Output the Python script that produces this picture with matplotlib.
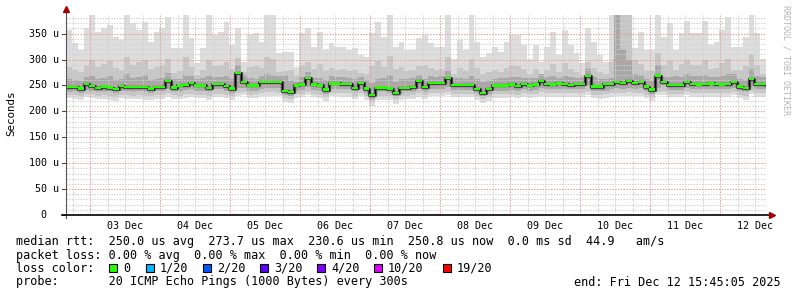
import numpy as np
import matplotlib
matplotlib.use('Agg')
import matplotlib.pyplot as plt
import matplotlib.dates as mdates
from matplotlib import transforms
from matplotlib.patches import Rectangle
from matplotlib.ticker import MultipleLocator, FuncFormatter, NullFormatter

plt.rcParams['font.family'] = ['DejaVu Sans Mono']

# ---------------- data (microseconds, 2-hour steps over 10 days) ----------------
end_time = np.datetime64('2025-12-12T15:45:05')
span_hours = 240
step_hours = 2

median = [247, 247, 244, 253, 249, 245, 248, 246, 243, 249,
          247, 247, 247, 247, 244, 247, 247, 259, 246, 250,
          251, 255, 250, 250, 245, 253, 253, 249, 244, 274,
          257, 250, 250, 257, 257, 257, 257, 240, 238, 250,
          252, 264, 252, 250, 242, 254, 254, 253, 253, 245,
          255, 244, 231, 246, 246, 244, 236, 245, 245, 247,
          258, 247, 255, 255, 255, 264, 251, 251, 251, 251,
          243, 236, 243, 250, 250, 250, 252, 249, 253, 250,
          252, 259, 253, 252, 254, 253, 251, 253, 253, 268,
          248, 248, 253, 253, 257, 255, 259, 255, 257, 248,
          242, 269, 257, 251, 251, 251, 257, 253, 252, 253,
          254, 253, 252, 253, 257, 248, 245, 262, 253, 253, 251]

smoke_max = [357, 331, 318, 361, 386, 353, 361, 367, 344, 338,
             386, 370, 357, 373, 334, 353, 361, 382, 322, 322,
             386, 341, 293, 322, 386, 347, 353, 373, 328, 361,
             296, 347, 351, 334, 386, 386, 312, 315, 315, 286,
             351, 361, 324, 353, 318, 331, 324, 324, 318, 322,
             309, 305, 351, 373, 344, 386, 324, 334, 318, 318,
             341, 347, 331, 324, 324, 386, 302, 338, 318, 386,
             334, 305, 312, 324, 315, 334, 347, 347, 328, 302,
             328, 296, 324, 353, 309, 357, 328, 312, 293, 361,
             334, 309, 296, 386, 386, 386, 386, 322, 353, 318,
             318, 386, 344, 370, 318, 351, 375, 351, 351, 375,
             328, 334, 357, 382, 324, 324, 344, 386, 351, 302, 302]

smoke_upper2 = [285, 280, 276, 290, 300, 286, 292, 298, 284, 280,
                305, 290, 296, 300, 282, 286, 290, 302, 274, 278,
                304, 286, 270, 280, 300, 288, 290, 296, 282, 303,
                276, 286, 288, 284, 305, 302, 276, 278, 280, 268,
                290, 296, 282, 292, 278, 284, 280, 282, 278, 280,
                274, 272, 288, 298, 286, 306, 282, 286, 278, 280,
                288, 290, 284, 280, 282, 304, 272, 284, 278, 302,
                284, 272, 276, 280, 276, 284, 290, 288, 282, 272,
                282, 270, 280, 292, 276, 294, 282, 276, 270, 296,
                284, 276, 272, 296, 386, 386, 386, 300, 292, 278,
                278, 312, 290, 298, 280, 292, 300, 290, 290, 300,
                282, 284, 294, 302, 280, 280, 288, 310, 290, 272, 272]

smoke_upper3 = [262, 260, 258, 266, 268, 262, 265, 268, 260, 262,
                272, 264, 266, 270, 260, 262, 264, 275, 262, 262,
                270, 268, 262, 264, 268, 266, 266, 268, 262, 290,
                270, 264, 262, 268, 272, 270, 268, 270, 258, 256,
                266, 276, 264, 264, 260, 268, 266, 266, 264, 262,
                266, 260, 254, 262, 264, 270, 256, 262, 262, 264,
                270, 262, 268, 266, 268, 278, 264, 264, 262, 268,
                262, 256, 258, 262, 264, 264, 266, 266, 264, 264,
                264, 272, 266, 268, 264, 268, 266, 264, 264, 282,
                266, 262, 262, 264, 386, 320, 300, 272, 270, 262,
                258, 290, 266, 266, 268, 266, 272, 268, 268, 270,
                266, 266, 268, 272, 272, 262, 260, 282, 268, 266, 264]

smoke_lower3 = [238, 238, 236, 242, 240, 237, 238, 237, 235, 240,
                239, 238, 239, 238, 236, 239, 239, 244, 238, 238,
                241, 243, 240, 240, 237, 243, 243, 240, 236, 246,
                246, 240, 240, 244, 245, 245, 245, 232, 230, 240,
                242, 248, 242, 240, 234, 244, 244, 243, 243, 237,
                244, 236, 224, 237, 237, 236, 229, 236, 237, 238,
                244, 238, 244, 244, 244, 248, 241, 241, 241, 241,
                235, 229, 234, 240, 240, 240, 242, 240, 243, 240,
                242, 246, 243, 243, 243, 243, 243, 243, 243, 250,
                240, 239, 240, 243, 245, 244, 246, 244, 245, 240,
                234, 246, 250, 242, 242, 242, 246, 243, 243, 243,
                243, 243, 243, 243, 246, 240, 237, 248, 243, 243, 242]

smoke_lower2 = [232, 231, 229, 234, 233, 230, 231, 230, 228, 232,
                231, 230, 231, 230, 229, 231, 231, 235, 231, 230,
                233, 234, 232, 232, 229, 234, 234, 232, 229, 236,
                238, 232, 233, 236, 237, 237, 236, 226, 224, 233,
                234, 238, 234, 232, 228, 236, 236, 235, 235, 230,
                236, 229, 218, 230, 230, 229, 223, 229, 230, 231,
                235, 231, 236, 236, 236, 238, 234, 234, 234, 234,
                229, 223, 227, 233, 233, 233, 234, 232, 235, 233,
                234, 237, 235, 235, 235, 235, 235, 235, 235, 240,
                232, 231, 233, 235, 236, 236, 237, 236, 236, 232,
                228, 238, 240, 234, 234, 234, 238, 235, 235, 235,
                235, 235, 235, 235, 238, 232, 230, 240, 235, 235, 234]

smoke_min = [226, 224, 222, 227, 225, 223, 224, 222, 220, 225,
             223, 223, 224, 222, 221, 224, 224, 228, 224, 223,
             226, 227, 225, 225, 222, 227, 227, 225, 222, 230,
             232, 226, 226, 229, 230, 230, 229, 219, 217, 226,
             227, 231, 227, 225, 220, 229, 229, 228, 228, 223,
             229, 221, 210, 222, 222, 221, 215, 222, 223, 224,
             228, 224, 229, 229, 229, 231, 227, 227, 227, 227,
             222, 216, 220, 226, 226, 226, 227, 225, 228, 226,
             227, 230, 228, 228, 228, 228, 228, 228, 228, 232,
             225, 224, 226, 228, 229, 229, 230, 229, 229, 225,
             220, 231, 232, 227, 227, 227, 231, 228, 228, 228,
             228, 228, 228, 228, 231, 225, 222, 233, 228, 228, 227]

y_ticks = [0, 50, 100, 150, 200, 250, 300, 350]
y_top = 386

# statistics shown in legend
rtt_avg, rtt_max, rtt_min, rtt_now, rtt_sd, rtt_ams = 250.0, 273.7, 230.6, 250.8, 0.0, 44.9
loss_avg, loss_max, loss_min, loss_now = 0.00, 0.00, 0.00, 0.00
loss_labels = ['0', '1/20', '2/20', '3/20', '4/20', '10/20', '19/20']
loss_colors = ['#26ff00', '#00b8ff', '#0059ff', '#5e00ff', '#7e00ff', '#dd00ff', '#ff0000']
probe_text = '20 ICMP Echo Pings (1000 Bytes) every 300s'
end_text = 'end: Fri Dec 12 15:45:05 2025'

# ---------------- figure ----------------
W, H = 797, 297
fig = plt.figure(figsize=(W / 100, H / 100), dpi=100, facecolor='white')
ax = fig.add_axes([66 / W, (H - 215) / H, 700 / W, 200 / H])
ax.set_facecolor('white')

start_time = end_time - np.timedelta64(span_hours, 'h')
times = start_time + np.arange(len(median)) * np.timedelta64(step_hours, 'h')

med = np.array(median, dtype=float)
ax.fill_between(times, smoke_min, smoke_max, step='post', color='#dddddd', lw=0, zorder=1)
ax.fill_between(times, smoke_lower2, smoke_upper2, step='post', color='#c6c6c6', lw=0, zorder=1.1)
ax.fill_between(times, smoke_lower3, smoke_upper3, step='post', color='#a8a8a8', lw=0, zorder=1.2)
ax.step(times, med, where='post', color='#505050', lw=2.4, zorder=3)
ax.step(times, med, where='post', color='black', lw=0.9, zorder=3.1)
ax.fill_between(times, med - 2.2, med + 2.2, step='post', color=loss_colors[0], lw=0, zorder=4)

ax.set_xlim(start_time, end_time)
ax.set_ylim(0, y_top)

# grid
ax.set_axisbelow(False)
ax.yaxis.set_major_locator(MultipleLocator(50))
ax.yaxis.set_minor_locator(MultipleLocator(10))
ax.xaxis.set_major_locator(mdates.DayLocator())
ax.xaxis.set_minor_locator(mdates.HourLocator(byhour=[6, 12, 18]))
dots = (0, (1.4, 1.4))
ax.grid(which='minor', color='#cfcfcf', linestyle=dots, lw=0.72)
ax.grid(which='major', color='#e79a9a', linestyle=dots, lw=0.72)

def xlabel_fmt(x, pos):
    d = mdates.num2date(x)
    return d.strftime('%d Dec') if d.hour == 12 else ''

ax.xaxis.set_major_formatter(NullFormatter())
ax.xaxis.set_minor_formatter(FuncFormatter(xlabel_fmt))
ax.tick_params(axis='x', which='both', length=0, pad=4, labelsize=7.2)
ax.tick_params(axis='y', which='both', length=0, labelleft=False)
for s in ax.spines.values():
    s.set_visible(False)

# y tick labels and small ticks
ytrans = transforms.blended_transform_factory(ax.transAxes, ax.transData)
for v in y_ticks:
    if v == 0:
        lab, off = '0', -20
    else:
        lab, off = f'{v} u', -7
    ax.text(0, v, lab, transform=ytrans + transforms.ScaledTranslation(off / 100, 0, fig.dpi_scale_trans),
            ha='right', va='center', fontsize=7.2, color='black')
    ax.plot([-4 / 700, 0], [v, v], transform=ytrans, color='#444444', lw=0.72, clip_on=False, zorder=5)

# axes lines with arrows
ax.plot([0, 0], [-3 / 200, 1.03], transform=ax.transAxes, color='#555555', lw=0.8, clip_on=False, zorder=5)
ax.plot([-4 / 700, 1.0085], [0, 0], transform=ax.transAxes, color='black', lw=1.2, clip_on=False, zorder=5)
ax.plot([0], [1.03], marker='^', ms=4.2, color='#a00000', transform=ax.transAxes, clip_on=False, zorder=6)
ax.plot([1.0085], [0], marker='>', ms=4.2, color='#a00000', transform=ax.transAxes, clip_on=False, zorder=6)

# labels
def fx(x):
    return x / W

def fy(y):
    return 1 - y / H

fig.text(fx(11), fy(113), 'Seconds', rotation=90, ha='center', va='center', fontsize=7.8)
fig.text(fx(786), fy(60), 'RRDTOOL / TOBI OETIKER', rotation=270, ha='center', va='center',
         fontsize=6.0, color='#b4b4b4')

fs = 8.5
line1 = (f'median rtt:  {rtt_avg:.1f} us avg  {rtt_max:.1f} us max  {rtt_min:.1f} us min  '
         f'{rtt_now:.1f} us now  {rtt_sd:.1f} ms sd  {rtt_ams:.1f}   am/s')
line2 = (f'packet loss: {loss_avg:.2f} % avg  {loss_max:.2f} % max  {loss_min:.2f} % min  '
         f'{loss_now:.2f} % now')
fig.text(fx(16), fy(241), line1, ha='left', va='center', fontsize=fs)
fig.text(fx(16), fy(255), line2, ha='left', va='center', fontsize=fs)
fig.text(fx(16), fy(268), 'loss color:', ha='left', va='center', fontsize=fs)
box_x = [109, 146, 203, 260, 317, 374, 443]
for bx, lab, col in zip(box_x, loss_labels, loss_colors):
    fig.add_artist(Rectangle((fx(bx), fy(272)), 8 / W, 8 / H, transform=fig.transFigure,
                             facecolor=col, edgecolor='black', lw=0.8))
    fig.text(fx(bx + 14), fy(268), lab, ha='left', va='center', fontsize=fs)
fig.text(fx(16), fy(282), 'probe:       ' + probe_text, ha='left', va='center', fontsize=fs)
fig.text(fx(781), fy(282), end_text, ha='right', va='center', fontsize=fs)

fig.savefig('out.png', dpi=100, facecolor='white')
